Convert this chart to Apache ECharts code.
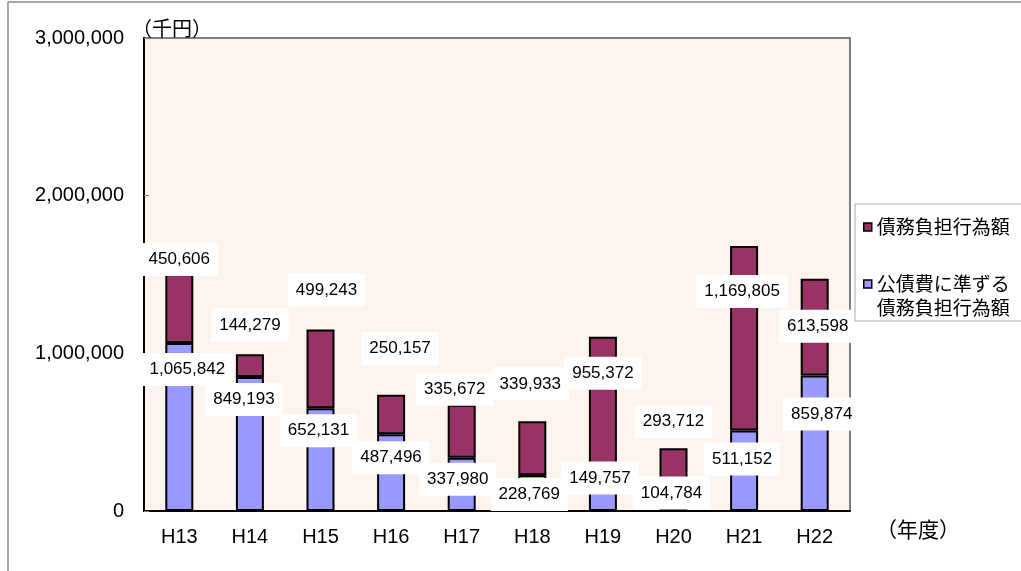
<!DOCTYPE html>
<html>
<head>
<meta charset="utf-8">
<script src="https://cdn.jsdelivr.net/npm/echarts@6/dist/echarts.min.js"></script>
<style>
  html, body { margin: 0; padding: 0; background: #fff; }
  #chart { width: 1021px; height: 571px; }
</style>
</head>
<body>
<div id="chart"></div>
<script>
// 年度
var years = ['H13', 'H14', 'H15', 'H16', 'H17', 'H18', 'H19', 'H20', 'H21', 'H22'];
// 公債費に準ずる債務負担行為額 (千円)
var quasiDebt = [1065842, 849193, 652131, 487496, 337980, 228769, 149757, 104784, 511152, 859874];
// 債務負担行為額 (千円)
var debtBurden = [450606, 144279, 499243, 250157, 335672, 339933, 955372, 293712, 1169805, 613598];
var yTicks = [0, 1000000, 2000000, 3000000];

// label nudges (the original labels were moved by hand)
var topLabelShift = [[0, 4], [0, -13], [6, -23], [9, -30], [-7, 1], [-2, -21], [0, 53], [0, -10], [-2, 62], [3, 64]];
var bottomLabelShift = [[8, 10], [-6, 6], [-2, 6], [0, 7], [-4, 5], [-3, 3], [-3, -26], [-2, -18], [-2, 12], [7, 22]];

var numFont = "'Liberation Sans', Arial, 'Noto Sans CJK JP', sans-serif";
var jpFont = "'Noto Sans CJK JP', sans-serif";

function fmt(v) {
  return Number(v).toLocaleString('en-US');
}

function withLabels(values, shifts) {
  return values.map(function (v, i) {
    return { value: v, label: { offset: shifts[i] } };
  });
}

var labelBox = {
  show: true,
  distance: 0,
  color: '#000',
  fontSize: 17,
  lineHeight: 17,
  fontFamily: numFont,
  backgroundColor: '#fff',
  padding: [8, 8],
  formatter: function (p) { return fmt(p.value); }
};

var chart = echarts.init(document.getElementById('chart'));
chart.setOption({
  animation: false,
  grid: {
    left: 144,
    right: 171,
    top: 38,
    bottom: 60,
    show: true,
    backgroundColor: '#fdf4ee',
    borderColor: '#808080',
    borderWidth: 2
  },
  legend: {
    left: 855,
    top: 204,
    orient: 'vertical',
    icon: 'rect',
    itemWidth: 8,
    itemHeight: 8,
    itemGap: 9,
    padding: [11, 14, 1, 8],
    backgroundColor: '#fff',
    borderColor: '#aaaaaa',
    borderWidth: 1,
    borderRadius: 0,
    itemStyle: { borderColor: '#000', borderWidth: 1.5 },
    textStyle: { fontSize: 19, lineHeight: 24, fontFamily: jpFont, color: '#000' },
    // empty first line keeps the marker level with the first text line
    formatter: function (name) {
      return name.indexOf('\n') >= 0 ? ' \n' + name : name;
    },
    data: ['債務負担行為額', '公債費に準ずる\n債務負担行為額']
  },
  xAxis: {
    type: 'category',
    data: years,
    axisLine: { lineStyle: { color: '#000', width: 2 } },
    axisTick: { inside: true, length: 5, lineStyle: { color: '#808080' } },
    axisLabel: { color: '#000', fontSize: 20, fontFamily: numFont, margin: 16 }
  },
  yAxis: {
    type: 'value',
    min: 0,
    max: 3000000,
    interval: 1000000,
    splitLine: { show: false },
    axisLine: { show: true, lineStyle: { color: '#000', width: 2 } },
    axisTick: { show: true, inside: true, length: 5, lineStyle: { color: '#808080' } },
    axisLabel: {
      color: '#000',
      fontSize: 20,
      fontFamily: numFont,
      margin: 20,
      customValues: yTicks,
      formatter: function (v) { return fmt(v); }
    }
  },
  graphic: [
    { type: 'line', shape: { x1: 8, y1: 2, x2: 1021, y2: 2 }, style: { stroke: '#a6a6a6', lineWidth: 2 } },
    { type: 'line', shape: { x1: 8, y1: 2, x2: 8, y2: 571 }, style: { stroke: '#a6a6a6', lineWidth: 2 } },
    { type: 'text', left: 132, top: 18, z: 0,
      style: { text: '（千円）', fontSize: 20, fontFamily: jpFont, fill: '#000' } },
    { type: 'text', left: 876, top: 519,
      style: { text: '（年度）', fontSize: 21, fontFamily: jpFont, fill: '#000' } }
  ],
  series: [
    {
      name: '公債費に準ずる\n債務負担行為額',
      type: 'bar',
      stack: 'total',
      barWidth: 28,
      itemStyle: { color: '#9999ff', borderColor: '#000', borderWidth: 2 },
      label: Object.assign({ position: 'insideTop' }, labelBox),
      data: withLabels(quasiDebt, bottomLabelShift)
    },
    {
      name: '債務負担行為額',
      type: 'bar',
      stack: 'total',
      barWidth: 28,
      itemStyle: { color: '#993366', borderColor: '#000', borderWidth: 2 },
      label: Object.assign({ position: 'top' }, labelBox),
      data: withLabels(debtBurden, topLabelShift)
    }
  ]
});
</script>
</body>
</html>
